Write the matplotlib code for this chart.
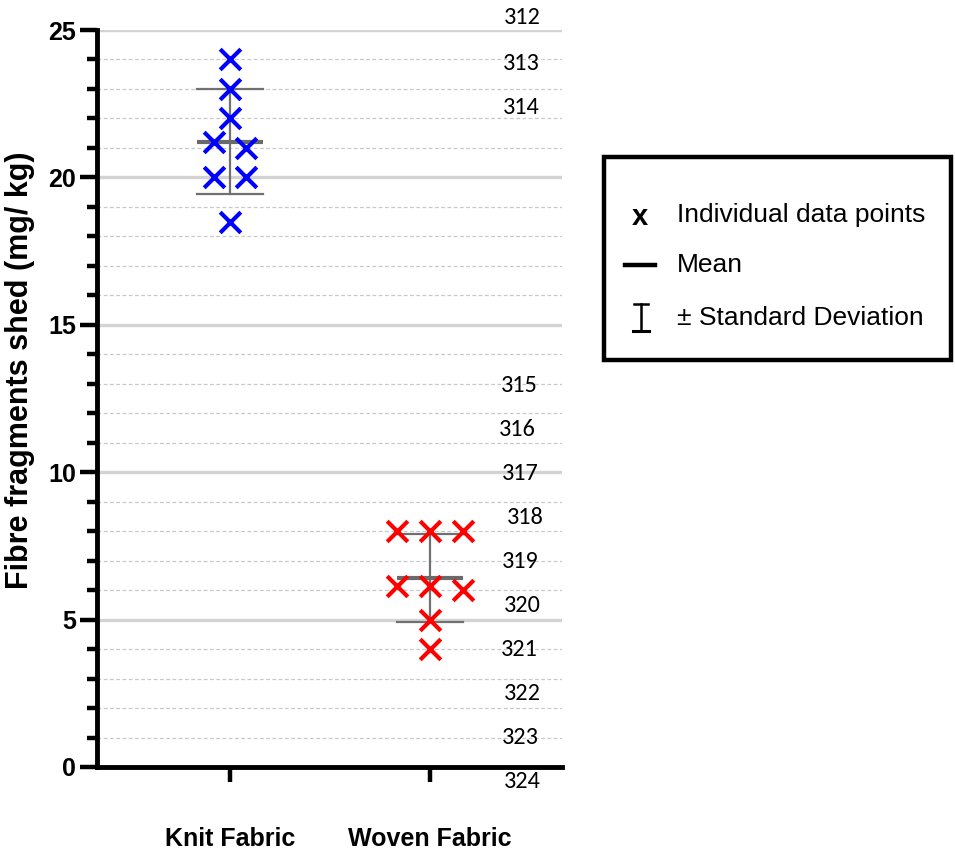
import matplotlib
matplotlib.use("Agg")
import matplotlib.pyplot as plt
import numpy as np
from matplotlib.lines import Line2D

# ---- data ----
categories = ["Knit Fabric", "Woven Fabric"]
knit_values = [24, 23, 22, 21.2, 21, 20, 20, 18.5]
knit_offsets = [0, 0, 0, -0.08, 0.08, -0.08, 0.08, 0]
woven_values = [8, 8, 8, 6.15, 6.15, 6.0, 5, 4]
woven_offsets = [-0.165, 0, 0.165, -0.165, 0, 0.165, 0, 0]
y_ticks = [0, 5, 10, 15, 20, 25]
line_numbers = ["312", "313", "314", "315", "316", "317", "318",
                "319", "320", "321", "322", "323", "324"]

plt.rcParams['font.family'] = ['Liberation Sans', 'DejaVu Sans']

W, H = 955, 851
fig = plt.figure(figsize=(W / 100, H / 100), dpi=100)
ax = fig.add_axes([97 / W, 1 - 767 / H, (562 - 97) / W, (767 - 30) / H])

ax.set_xlim(-0.665, 1.66)
ax.set_ylim(0, 25)

# grid
for y in range(0, 26):
    if y % 5 == 0:
        ax.axhline(y, color="#d3d3d3", lw=2.4, zorder=0)
    else:
        ax.axhline(y, color="#c8c8c8", lw=0.9, ls=(0, (3, 2)), zorder=0)

series = [(knit_values, knit_offsets, "#0000ff"),
          (woven_values, woven_offsets, "#ff0000")]
hw = 0.165
for i, (vals, offs, col) in enumerate(series):
    vals = np.array(vals)
    m = vals.mean()
    sd = vals.std(ddof=1)
    ax.plot([i, i], [m - sd, m + sd], color="#707070", lw=1.6, zorder=2)
    ax.plot([i - hw, i + hw], [m + sd, m + sd], color="#707070", lw=1.6, zorder=2)
    ax.plot([i - hw, i + hw], [m - sd, m - sd], color="#707070", lw=1.6, zorder=2)
    ax.plot([i - hw, i + hw], [m, m], color="#6a6a6a", lw=3.0, zorder=2,
            solid_capstyle="butt")
    ax.scatter(np.array(offs) + i, vals, marker="x", s=220, color=col,
               linewidths=3.0, zorder=3)

# axes styling
for s in ["top", "right"]:
    ax.spines[s].set_visible(False)
ax.spines["left"].set_linewidth(3.5)
ax.spines["bottom"].set_linewidth(3.5)
ax.set_yticks(y_ticks)
ax.set_yticks(range(0, 26), minor=True)
ax.set_xticks([0, 1])
ax.set_xticklabels(categories, fontsize=18, fontweight="bold")
ax.tick_params(axis="y", which="major", length=12, width=3.2, labelsize=18, pad=3)
ax.tick_params(axis="y", which="minor", length=7, width=3.2)
ax.tick_params(axis="x", which="major", length=11, width=3.2, pad=32)
for lab in ax.get_yticklabels():
    lab.set_fontweight("bold")
fig.text(20 / W, 1 - 370 / H, "Fibre fragments shed (mg/ kg)", rotation=90,
         ha="center", va="center", fontsize=22, fontweight="bold")

# manuscript line numbers
ys = [18, 63, 108, 386, 430, 473, 518, 562, 606, 650, 694, 738, 782]
xs = [522, 521, 521, 519, 517, 520, 525, 520, 522, 519, 522, 520, 522]
for t, x, y in zip(line_numbers, xs, ys):
    fig.text(x / W, 1 - y / H, t, ha="center", va="center", fontsize=17.5,
             family=["Carlito", "Lato", "DejaVu Sans"])

# legend box
box = plt.Rectangle((604 / W, 1 - 360 / H), (951 - 604) / W, (360 - 157) / H,
                    transform=fig.transFigure, fill=False, lw=3.2, ec="black")
fig.add_artist(box)
fig.text(640 / W, 1 - 217 / H, "x", ha="center", va="center", fontsize=21,
         fontweight="bold")
fig.text(677 / W, 1 - 215 / H, "Individual data points", ha="left", va="center",
         fontsize=19)
fig.add_artist(Line2D([625 / W, 655 / W], [1 - 265 / H, 1 - 265 / H],
                      transform=fig.transFigure, color="black", lw=3.2))
fig.text(677 / W, 1 - 265 / H, "Mean", ha="left", va="center", fontsize=19)
fig.add_artist(Line2D([641 / W, 641 / W], [1 - 304 / H, 1 - 331 / H],
                      transform=fig.transFigure, color="black", lw=1.8))
fig.add_artist(Line2D([634 / W, 648 / W], [1 - 304 / H, 1 - 304 / H],
                      transform=fig.transFigure, color="black", lw=1.8))
fig.add_artist(Line2D([633 / W, 649 / W], [1 - 331 / H, 1 - 331 / H],
                      transform=fig.transFigure, color="black", lw=2.2))
fig.text(677 / W, 1 - 318 / H, "± Standard Deviation", ha="left", va="center",
         fontsize=19)

fig.savefig("out.png", dpi=100)
